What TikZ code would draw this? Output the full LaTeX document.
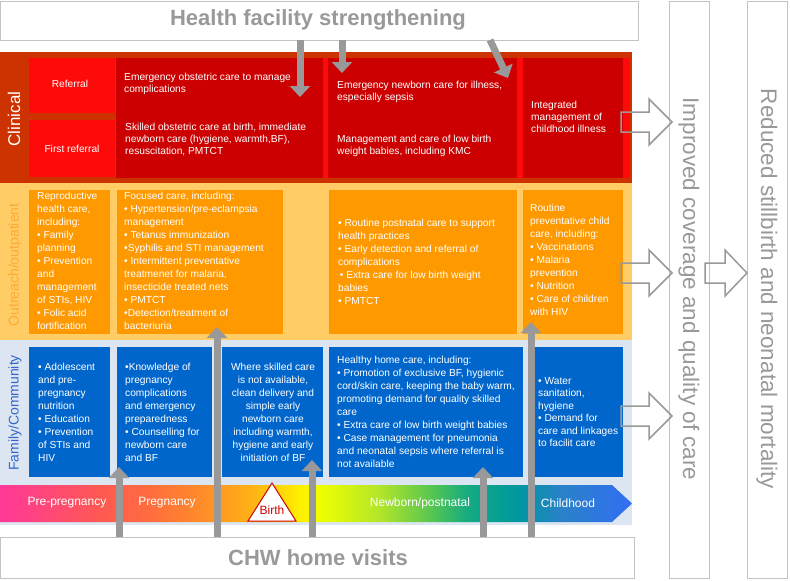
\documentclass[tikz,border=0pt]{standalone}
\usepackage{fontspec}
\setmainfont{Liberation Sans}
\usetikzlibrary{arrows.meta}

\definecolor{clinbg}{RGB}{204,51,0}
\definecolor{clinred}{RGB}{255,10,10}
\definecolor{clindark}{RGB}{204,0,0}
\definecolor{outbg}{RGB}{255,204,102}
\definecolor{outcell}{RGB}{255,153,0}
\definecolor{outtext}{RGB}{255,170,51}
\definecolor{fambg}{RGB}{220,230,242}
\definecolor{famcell}{RGB}{0,102,204}
\definecolor{famtext}{RGB}{51,102,204}
\definecolor{boxgray}{RGB}{195,195,195}
\definecolor{textgray}{RGB}{153,153,153}
\definecolor{arrowgray}{RGB}{153,153,153}

\pgfdeclarehorizontalshading{timeline}{100bp}{rgb(0bp)=(1,0.22,0.6); rgb(25bp)=(1,0.22,0.6);
  rgb(33bp)=(1,0.35,0.32); rgb(37bp)=(1,0.43,0.24); rgb(41bp)=(1,0.55,0.16); rgb(45bp)=(1,0.7,0.08);
  rgb(48.7bp)=(1,0.94,0); rgb(50.3bp)=(0.94,1,0); rgb(55bp)=(0.7,0.9,0.16); rgb(59bp)=(0.35,0.78,0.31);
  rgb(62bp)=(0.08,0.67,0.51); rgb(66bp)=(0,0.59,0.63); rgb(69.3bp)=(0.16,0.51,0.78); rgb(75bp)=(0.2,0.43,0.96);
  rgb(100bp)=(0.2,0.43,0.96)}

\begin{document}
\begin{tikzpicture}[x=1pt,y=-1pt]

  \tikzset{every node/.style={inner sep=0pt, text=white, font=\fontsize{10.2}{13}\selectfont},
    cell/.style={anchor=north west, align=left},
    clin/.style={cell, font=\fontsize{10.2}{12}\selectfont},
    band/.style={rotate=90, font=\fontsize{14}{14}\selectfont},
    stage/.style={font=\fontsize{12}{12}\selectfont},
    outbox/.style={draw=boxgray, fill=white, line width=0.8pt},
    bigtitle/.style={text=textgray, font=\fontsize{22}{22}\selectfont\bfseries},
    sidetitle/.style={rotate=-90, text=textgray, font=\fontsize{22.5}{22.5}\selectfont},
    greyarrow/.style={draw=arrowgray, line width=7pt, -{Triangle[width=20pt,length=11pt]}},
    hollow/.style={draw=arrowgray, line width=1.5pt, line join=miter}}

  \useasboundingbox (0,0) rectangle (790,581);

  %%% Clinical
  \fill [clinbg] (0,52) rectangle (632,183);
  \fill [clinred] (29,58) rectangle (115,113);
  \fill [clinred] (29,120) rectangle (115,177);
  \fill [clinred] (116,58) rectangle (630,178);
  \foreach \a/\b in {116/323, 328/517, 523/623}
  {
    \fill [clindark] (\a,58) rectangle (\b,178);
  }
  \node [band, font=\fontsize{17}{17}\selectfont] (clinical) at (14,119) {Clinical};
  \node (ref) at (70,84) {Referral};
  \node (firstref) at (72,149) {First referral};
  \node [clin] (eoc) at (124,73) {Emergency obstetric care to manage\\complications};
  \node [clin] (soc) at (125,123) {Skilled obstetric care at birth, immediate\\newborn care (hygiene, warmth,BF),\\resuscitation, PMTCT};
  \node [clin] (enc) at (337,81) {Emergency newborn care for illness,\\especially sepsis};
  \node [clin] (lbw) at (337,135) {Management and care of low birth\\weight babies, including KMC};
  \node [clin] (imci) at (531,101) {Integrated\\management of\\childhood illness};

  %%% Outreach/outpatient
  \fill [outbg] (0,183) rectangle (632,340);
  \foreach \a/\b in {29/110, 117/283, 329/517, 523/623}
  {
    \fill [outcell] (\a,190) rectangle (\b,334);
  }
  \node [band, text=outtext] (outreach) at (15,265) {Outreach/outpatient};
  \node [cell] (rhc) at (37,192) {Reproductive\\health care,\\including:\\• Family\\planning\\• Prevention\\and\\management\\of STIs, HIV\\• Folic acid\\fortification};
  \node [cell] (foc) at (124,192) {Focused care, including:\\• Hypertension/pre-eclampsia\\management\\• Tetanus immunization\\•Syphilis and STI management\\• Intermittent preventative\\treatmenet for malaria,\\insecticide treated nets\\• PMTCT\\•Detection/treatment of\\bacteriuria};
  \node [cell] (pnc) at (338,219) {• Routine postnatal care to support\\health practices\\• Early detection and referral of\\complications\\\,• Extra care for low birth weight\\babies\\• PMTCT};
  \node [cell] (rpc) at (530,204) {Routine\\preventative child\\care, including:\\• Vaccinations\\• Malaria\\prevention\\• Nutrition\\• Care of children\\with HIV};

  %%% Family/Community
  \fill [fambg] (0,340) rectangle (632,525);
  \foreach \a/\b in {29/110, 117/212, 222/323, 329/523, 529/623}
  {
    \fill [famcell] (\a,347) rectangle (\b,477);
  }
  \node [band, text=famtext] (family) at (15,413) {Family/Community};
  \node [cell] (adol) at (38,363) {• Adolescent\\and pre-\\pregnancy\\nutrition\\• Education\\• Prevention\\of STIs and\\HIV};
  \node [cell] (know) at (125,363) {•Knowledge of\\pregnancy\\complications\\and emergency\\preparedness\\• Counselling for\\newborn care\\and BF};
  \node [anchor=north, align=center] (skill) at (273,363) {Where skilled care\\is not available,\\clean delivery and\\simple early\\newborn care\\including warmth,\\hygiene and early\\initiation of BF};
  \node [cell] (hhc) at (337,356) {Healthy home care, including:\\• Promotion of exclusive BF, hygienic\\cord/skin care, keeping the baby warm,\\promoting demand for quality skilled\\care\\• Extra care of low birth weight babies\\• Case management for pneumonia\\and neonatal sepsis where referral is\\not available};
  \node [cell, font=\fontsize{10.2}{12.5}\selectfont] (water) at (538,377) {• Water\\sanitation,\\hygiene\\• Demand for\\care and linkages\\to facilit care};

  %%% time line
  \shade [shading=timeline] (0,485) -- (612,485) -- (632,503.5) -- (612,522) -- (0,522) -- cycle;
  \draw [draw=clindark, fill=white, line width=1pt] (272,483) -- (296,521) -- (248,521) -- cycle;
  \node [stage] (prepreg) at (67,503) {Pre-pregnancy};
  \node [stage] (preg) at (167,503) {Pregnancy};
  \node [stage, text=clindark] (birth) at (272,510) {Birth};
  \node [stage] (newborn) at (420,503) {Newborn/postnatal};
  \node [stage] (child) at (568,503) {Childhood};

  %%% boxes round the edge
  \draw [outbox] (0,1) rectangle (638,40);
  \node [bigtitle] (hfs) at (318,20) {Health facility strengthening};
  \draw [outbox] (0,537) rectangle (634,578);
  \node [bigtitle] (chw) at (318,558) {CHW home visits};
  \draw [outbox] (669,1) rectangle (709,578);
  \node [sidetitle] (coverage) at (689,289) {Improved coverage and quality of care};
  \draw [outbox] (747,1) rectangle (787,578);
  \node [sidetitle] (mortality) at (767,289) {Reduced stillbirth and neonatal mortality};

  %%% grey arrows
  \path (300,40) coordinate (d1) (300,97) coordinate (d2);
  \path (342,40) coordinate (d3) (342,73) coordinate (d4);
  \path (490,40) coordinate (d5) (508,78) coordinate (d6);
  \draw [greyarrow] (d1) -- (d2);
  \draw [greyarrow] (d3) -- (d4);
  \draw [greyarrow] (d5) -- (d6);
  \foreach \x/\y in {119/467, 217/327, 312/460, 483/467, 531/322}
  {
    \path (\x,537) coordinate (u1) (\x,\y) coordinate (u2);
    \draw [greyarrow] (u1) -- (u2);
  }

  \foreach \yc in {122,273,416}
  {
    \draw [hollow] (621,\yc-10) -- (649,\yc-10) -- (649,\yc-23) -- (672,\yc) -- (649,\yc+23) -- (649,\yc+10) -- (621,\yc+10) -- cycle;
  }
  \draw [hollow] (705,263) -- (725,263) -- (725,250) -- (747,273) -- (725,296) -- (725,283) -- (705,283) -- cycle;

\end{tikzpicture}
\end{document}
